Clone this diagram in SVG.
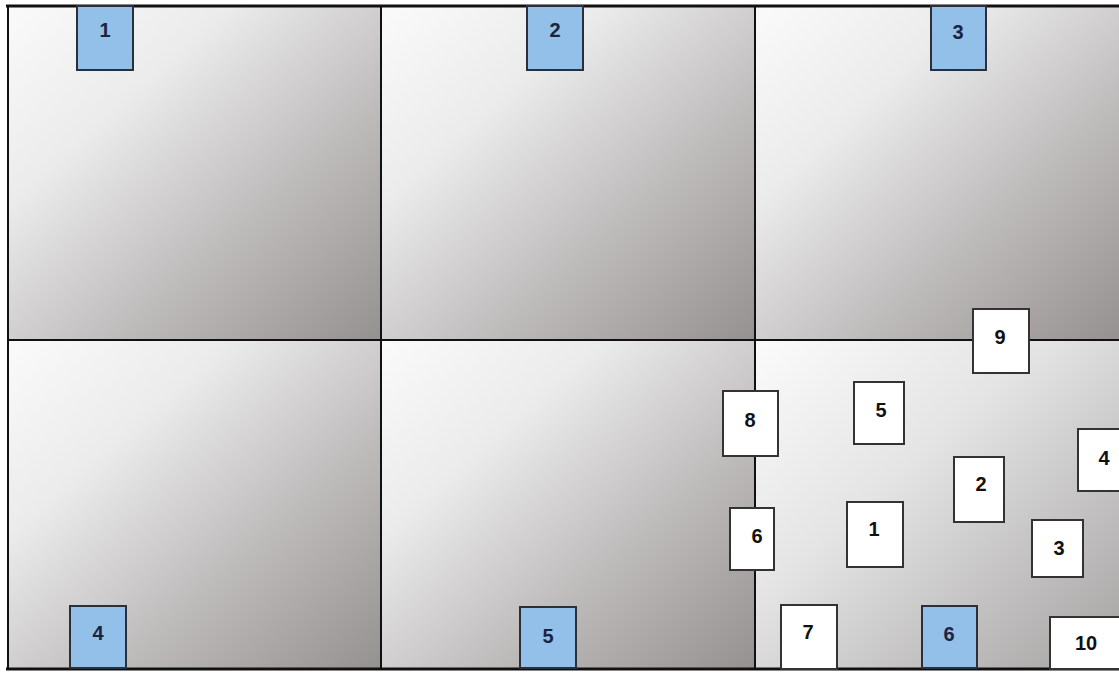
<svg xmlns="http://www.w3.org/2000/svg" width="1119" height="673" viewBox="0 0 1119 673">
<defs>
<linearGradient id="g" x1="0" y1="0" x2="1" y2="1">
<stop offset="0" stop-color="#fafafa"/>
<stop offset="0.3" stop-color="#ebebeb"/>
<stop offset="0.65" stop-color="#bdbaba"/>
<stop offset="1" stop-color="#959190"/>
</linearGradient>
<linearGradient id="g2" x1="0" y1="0" x2="1" y2="1">
<stop offset="0" stop-color="#fbfbfb"/>
<stop offset="0.4" stop-color="#e4e4e4"/>
<stop offset="1" stop-color="#a4a2a1"/>
</linearGradient>
</defs>
<style>
.b{fill:#92c0e8;stroke:#2a2f3a;stroke-width:2}
.w{fill:#ffffff;stroke:#333333;stroke-width:2}
.t{font-family:"Liberation Sans",Arial,sans-serif;font-weight:bold;font-size:20px;text-anchor:middle;dominant-baseline:central}
.bt{fill:#1c2340}
.wt{fill:#111111}
.l{stroke:#111;stroke-width:2;fill:none}
</style>
<rect width="1119" height="673" fill="#ffffff"/>
<g id="panels">
<rect x="8" y="6" width="373" height="334" fill="url(#g)"/>
<rect x="381" y="6" width="374" height="334" fill="url(#g)"/>
<rect x="755" y="6" width="364" height="334" fill="url(#g)"/>
<rect x="8" y="340" width="373" height="329" fill="url(#g)"/>
<rect x="381" y="340" width="374" height="329" fill="url(#g)"/>
<rect x="755" y="340" width="364" height="329" fill="url(#g2)"/>
</g>
<g id="grid">
<line class="l" x1="8" y1="6" x2="8" y2="669"/>
<line class="l" x1="381" y1="6" x2="381" y2="669"/>
<line class="l" x1="755" y1="6" x2="755" y2="669"/>
<line class="l" x1="8" y1="340" x2="1119" y2="340"/>
<line x1="6" y1="6" x2="1119" y2="6" stroke="#111" stroke-width="3"/>
<line x1="6" y1="669" x2="1119" y2="669" stroke="#111" stroke-width="3"/>
</g>
<g id="b1"><rect class="b" x="77" y="6" width="56" height="64"/><text class="t bt" x="105" y="30">1</text></g>
<g id="b2"><rect class="b" x="527" y="6" width="56" height="64"/><text class="t bt" x="555" y="30">2</text></g>
<g id="b3"><rect class="b" x="931" y="6" width="55" height="64"/><text class="t bt" x="958" y="32">3</text></g>
<g id="b4"><rect class="b" x="70" y="606" width="56" height="62"/><text class="t bt" x="98" y="633">4</text></g>
<g id="b5"><rect class="b" x="520" y="607" width="56" height="61"/><text class="t bt" x="548" y="636">5</text></g>
<g id="b6"><rect class="b" x="922" y="606" width="55" height="62"/><text class="t bt" x="949" y="634">6</text></g>
<g id="w9"><rect class="w" x="973" y="309" width="56" height="64"/><text class="t wt" x="1000" y="337">9</text></g>
<g id="w8"><rect class="w" x="723" y="391" width="55" height="65"/><text class="t wt" x="750" y="420">8</text></g>
<g id="w5"><rect class="w" x="854" y="382" width="50" height="62"/><text class="t wt" x="881" y="410">5</text></g>
<g id="w4"><rect class="w" x="1078" y="429" width="45" height="62"/><text class="t wt" x="1104" y="458">4</text></g>
<g id="w2"><rect class="w" x="954" y="457" width="50" height="65"/><text class="t wt" x="981" y="484">2</text></g>
<g id="w6"><rect class="w" x="730" y="508" width="44" height="62"/><text class="t wt" x="757" y="536">6</text></g>
<g id="w1"><rect class="w" x="847" y="502" width="56" height="65"/><text class="t wt" x="874" y="529">1</text></g>
<g id="w3"><rect class="w" x="1032" y="520" width="51" height="57"/><text class="t wt" x="1059" y="548">3</text></g>
<g id="w7"><rect class="w" x="781" y="605" width="56" height="64"/><text class="t wt" x="808" y="632">7</text></g>
<g id="w10"><rect class="w" x="1050" y="617" width="75" height="52"/><text class="t wt" x="1086" y="643">10</text></g>
</svg>
